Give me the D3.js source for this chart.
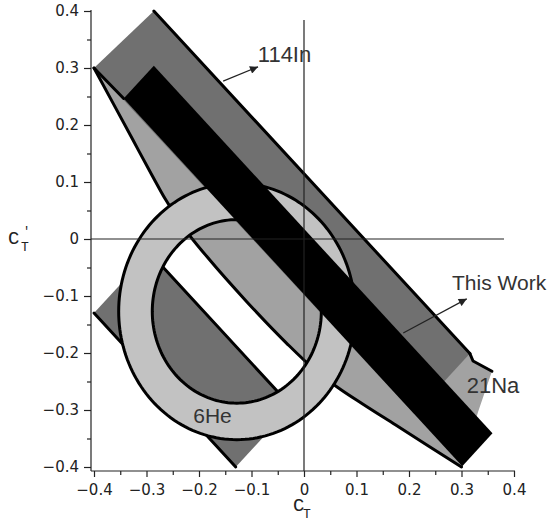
<!DOCTYPE html>
<html>
<head>
<meta charset="utf-8">
<script src="https://cdn.jsdelivr.net/npm/d3@7"></script>
<style>
  html, body { margin: 0; padding: 0; background: #fff; }
  svg { display: block; }
</style>
</head>
<body>
<svg id="chart" width="549" height="521"></svg>
<script>
// ---- axis ticks ----
const xMajor = [-0.4, -0.3, -0.2, -0.1, 0, 0.1, 0.2, 0.3, 0.4];
const xMajorLabels = ["\u22120.4", "\u22120.3", "\u22120.2", "\u22120.1", "0", "0.1", "0.2", "0.3", "0.4"];
const yMajor = [0.4, 0.3, 0.2, 0.1, 0, -0.1, -0.2, -0.3, -0.4];
const yMajorLabels = ["0.4", "0.3", "0.2", "0.1", "0", "\u22120.1", "\u22120.2", "\u22120.3", "\u22120.4"];
const minorTicks = [-0.35, -0.25, -0.15, -0.05, 0.05, 0.15, 0.25, 0.35];
const zeroLineEnd = [0.381, 0.384];   // extent of the C_T = 0 / C'_T = 0 lines

// ---- allowed regions, (C_T, C'_T) vertices ----
// 114In: upper band and lower band
const inBandUpper = [[-0.4, 0.3], [-0.286, 0.4], [0.316, -0.201], [0.21, -0.307]];
const inBandLower = [[-0.4, -0.13], [-0.13, -0.4], [-0.024, -0.294], [-0.294, -0.024]];

// 21Na: curved lower boundary, then the upper boundary back to the start
const naLower = [
  [-0.400, 0.300], [-0.363, 0.237], [-0.326, 0.174], [-0.289, 0.111],
  [-0.2645, 0.0705], [-0.2295, 0.0205], [-0.183, -0.033], [-0.1095, -0.1095],
  [-0.033, -0.183], [0.0205, -0.2295], [0.0705, -0.2645], [0.111, -0.289],
  [0.174, -0.326], [0.237, -0.363], [0.300, -0.400]
];
const naUpper = [[0.3315, -0.3035], [0.358, -0.232], [0.322, -0.214], [0.316, -0.201], [-0.275, 0.375]];

// 6He: annulus
const heCenter = [-0.128, -0.127];
const heRadii = [0.161, 0.225];

// This Work: band
const thisWork = [[-0.286, 0.304], [0.359, -0.341], [0.3015, -0.3985], [-0.3435, 0.2465]];

// ---- labels ----
const labels = [
  { text: "114In",     at: [-0.088, 0.311],  size: 22 },
  { text: "This Work", at: [0.282, -0.0895], size: 21 },
  { text: "21Na",      at: [0.310, -0.270],  size: 22 },
  { text: "6He",       at: [-0.211, -0.323], size: 21 }
];
const arrows = [
  { from: [-0.154, 0.277], to: [-0.0876, 0.302] },
  { from: [0.189, -0.165], to: [0.310, -0.105] }
];

// ---- colours ----
const darkGray = "#707070", midGray = "#a2a2a2", lightGray = "#c2c2c2";

const svg = d3.select("#chart");
const x = d3.scaleLinear().domain([-0.4, 0.4]).range([94, 514]);
const y = d3.scaleLinear().domain([-0.4, 0.4]).range([467, 11]);
const yAxisX = 91, xAxisY = 471;

const straight = d3.line().x(d => x(d[0])).y(d => y(d[1]));
const smooth = d3.line().x(d => x(d[0])).y(d => y(d[1])).curve(d3.curveMonotoneX);
const closed = pts => straight(pts) + "Z";

const plot = svg.append("g");
const fillLayer = plot.append("g");
const edgeLayer = plot.append("g");
const ringLayer = plot.append("g");
const upperLayer = plot.append("g");

// lower 114In band
fillLayer.append("path").attr("d", closed(inBandLower)).attr("fill", darkGray);

// 21Na region
const naPath = smooth(naLower) + straight(naUpper).replace(/^M/, "L") + "Z";
fillLayer.append("path").attr("d", naPath).attr("fill", midGray);

// upper 114In band
fillLayer.append("path").attr("d", closed(inBandUpper)).attr("fill", darkGray);

// region outlines
const edgeList = [
  straight([inBandLower[0], inBandLower[1]]),
  straight([inBandLower[3], inBandLower[2]]),
  straight([inBandUpper[1], inBandUpper[2]]),
  straight([inBandUpper[0], thisWork[3]]),
  smooth(naLower),
  straight(naUpper.slice(1, 4))
];
edgeLayer.selectAll("path").data(edgeList).join("path")
  .attr("d", d => d)
  .attr("fill", "none").attr("stroke", "#000").attr("stroke-width", 3)
  .attr("stroke-linejoin", "round").attr("stroke-linecap", "round");

// 6He annulus
const ring = r => d3.range(0, 360, 2).map(a => {
  const t = a * Math.PI / 180;
  return [heCenter[0] + r * Math.cos(t), heCenter[1] + r * Math.sin(t)];
});
const ringPaths = heRadii.map(r => closed(ring(r)));
ringLayer.append("path").attr("d", ringPaths.join(" "))
  .attr("fill", lightGray).attr("fill-rule", "evenodd");
ringLayer.selectAll("path.edge").data(ringPaths).join("path").attr("class", "edge")
  .attr("d", d => d)
  .attr("fill", "none").attr("stroke", "#000").attr("stroke-width", 3);

// This Work band
upperLayer.append("path").attr("d", closed(thisWork)).attr("fill", "#000");

// C_T = 0 and C'_T = 0 lines
upperLayer.append("line").attr("x1", yAxisX).attr("x2", x(zeroLineEnd[0]))
  .attr("y1", y(0)).attr("y2", y(0)).attr("stroke", "#222").attr("stroke-width", 1.2);
upperLayer.append("line").attr("x1", x(0)).attr("x2", x(0))
  .attr("y1", y(zeroLineEnd[1])).attr("y2", xAxisY).attr("stroke", "#222").attr("stroke-width", 1.2);

// ---- axes ----
const styleAxis = g => {
  g.select(".domain").remove();
  g.selectAll(".tick line").attr("stroke", "#222").attr("stroke-width", 1.2);
  g.selectAll(".tick text").attr("fill", "#222")
    .style("font-family", "'DejaVu Sans', sans-serif").style("font-size", "15px");
};
svg.append("g").attr("transform", `translate(${yAxisX},0)`)
  .call(d3.axisLeft(y).tickValues(yMajor).tickFormat((d, i) => yMajorLabels[i]).tickSize(7).tickPadding(5))
  .call(styleAxis);
svg.append("g").attr("transform", `translate(${yAxisX},0)`)
  .call(d3.axisLeft(y).tickValues(minorTicks).tickFormat("").tickSize(4))
  .call(styleAxis);
svg.append("g").attr("transform", `translate(0,${xAxisY})`)
  .call(d3.axisBottom(x).tickValues(xMajor).tickFormat((d, i) => xMajorLabels[i]).tickSize(6).tickPadding(7))
  .call(styleAxis);
svg.append("g").attr("transform", `translate(0,${xAxisY})`)
  .call(d3.axisBottom(x).tickValues(minorTicks).tickFormat("").tickSize(4))
  .call(styleAxis);
svg.append("line").attr("x1", yAxisX).attr("x2", yAxisX).attr("y1", y(0.4) - 1).attr("y2", xAxisY)
  .attr("stroke", "#222").attr("stroke-width", 1.2);
svg.append("line").attr("x1", yAxisX).attr("x2", x(0.4) + 1).attr("y1", xAxisY).attr("y2", xAxisY)
  .attr("stroke", "#222").attr("stroke-width", 1.2);

// axis titles
const mono = "'Liberation Mono', 'DejaVu Sans Mono', monospace";
const xt = svg.append("g").attr("transform", `translate(${x(0) - 11},511)`);
xt.append("text").attr("x", 0).attr("y", 0).text("C")
  .style("font-family", mono).style("font-size", "19px").attr("fill", "#222");
xt.append("text").attr("x", 10).attr("y", 7).text("T")
  .style("font-family", mono).style("font-size", "13px").attr("fill", "#222");
const yt = svg.append("g").attr("transform", `translate(8,${y(0) + 5})`);
yt.append("text").attr("x", 0).attr("y", 0).text("C")
  .style("font-family", mono).style("font-size", "19px").attr("fill", "#222");
yt.append("text").attr("x", 15).attr("y", -9).text("'")
  .style("font-family", mono).style("font-size", "12px").attr("fill", "#222");
yt.append("text").attr("x", 13).attr("y", 7).text("T")
  .style("font-family", mono).style("font-size", "13px").attr("fill", "#222");

// ---- annotations ----
svg.append("defs").append("marker").attr("id", "head")
  .attr("viewBox", "0 0 10 10").attr("refX", 10).attr("refY", 5)
  .attr("markerWidth", 10).attr("markerHeight", 8).attr("markerUnits", "userSpaceOnUse")
  .attr("orient", "auto")
  .append("path").attr("d", "M0,0L10,5L0,10Z").attr("fill", "#222");
arrows.forEach(a => {
  svg.append("line")
    .attr("x1", x(a.from[0])).attr("y1", y(a.from[1]))
    .attr("x2", x(a.to[0])).attr("y2", y(a.to[1]))
    .attr("stroke", "#222").attr("stroke-width", 1.2).attr("marker-end", "url(#head)");
});
labels.forEach(l => {
  svg.append("text").attr("x", x(l.at[0])).attr("y", y(l.at[1])).text(l.text)
    .style("font-family", "'Liberation Sans', Arial, sans-serif")
    .style("font-size", l.size + "px").attr("fill", "#333");
});
</script>
</body>
</html>
